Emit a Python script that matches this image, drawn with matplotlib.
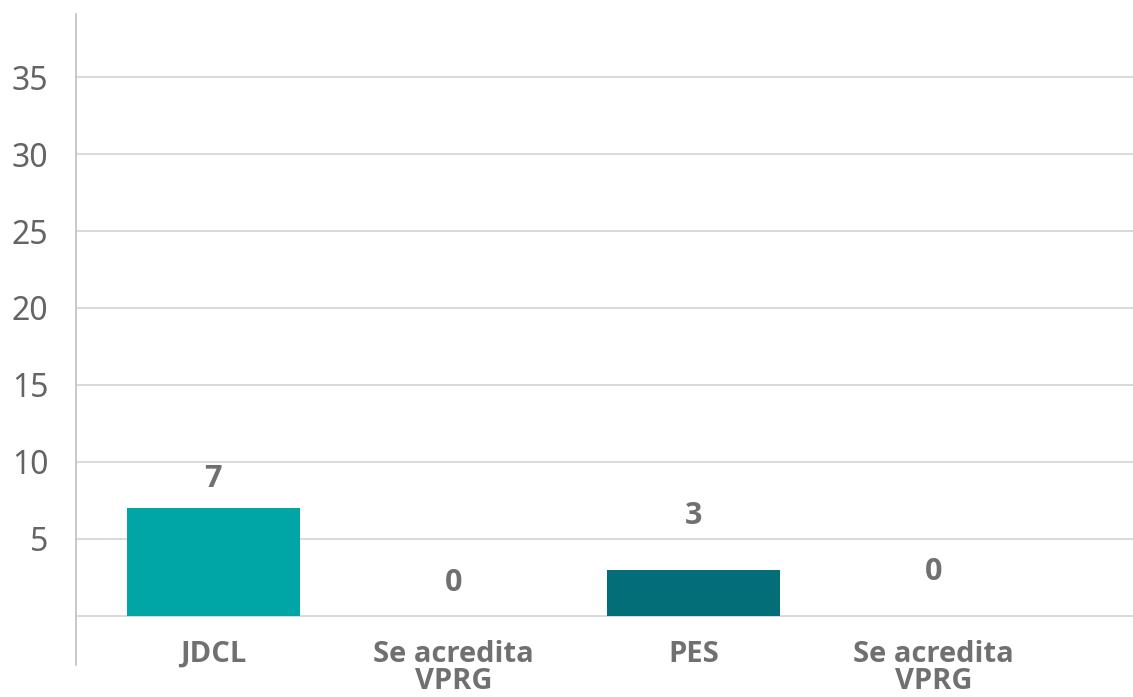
import matplotlib
matplotlib.use("Agg")
import matplotlib.pyplot as plt

plt.rcParams["font.family"] = ["Noto Sans", "DejaVu Sans"]
BOLD_FAMILY = ["Open Sans", "DejaVu Sans"]

categories = ["JDCL", "Se acredita\nVPRG", "PES", "Se acredita\nVPRG"]
values = [7, 0, 3, 0]
value_labels = ["7", "0", "3", "0"]
bar_colors = ["#00A6A6", "#00A6A6", "#036E77", "#036E77"]
yticks = [5, 10, 15, 20, 25, 30, 35]

fig = plt.figure(figsize=(11.33, 6.97), dpi=100)
ax = fig.add_axes([76/1133, 1 - 665/697, (1133-76)/1133, (665-14)/697])

x = list(range(len(categories)))
ax.set_xlim(-0.571, 3.83)
ax.set_ylim(-3.2, 39.1)

for yv in [0] + yticks:
    ax.axhline(yv, color="#D3D3D3", lw=1.2, zorder=1)

bars = ax.bar(x, values, width=0.72, color=bar_colors, zorder=2)

offsets = [10, 13, 28, 21]
for xi, v, lab, off in zip(x, values, value_labels, offsets):
    ax.annotate(lab, (xi, v), xytext=(0, off), textcoords="offset points",
                ha="center", va="bottom", fontsize=22, fontweight="bold",
                color="#707070", family=BOLD_FAMILY)

ax.set_yticks(yticks)
ax.set_yticklabels([str(t) for t in yticks], fontsize=23, color="#646464")
ax.tick_params(axis="y", length=0, pad=20)
ax.set_xticks([])
for xi, c in zip(x, categories):
    ax.text(xi, -1.55, c, ha="center", va="top", fontsize=21, fontweight="bold",
            color="#707070", linespacing=0.92, clip_on=False, family=BOLD_FAMILY)

for s in ["top", "right", "bottom"]:
    ax.spines[s].set_visible(False)
ax.spines["left"].set_color("#BFBFBF")
ax.spines["left"].set_linewidth(1.2)

fig.savefig("out.png", dpi=100, facecolor="white")
